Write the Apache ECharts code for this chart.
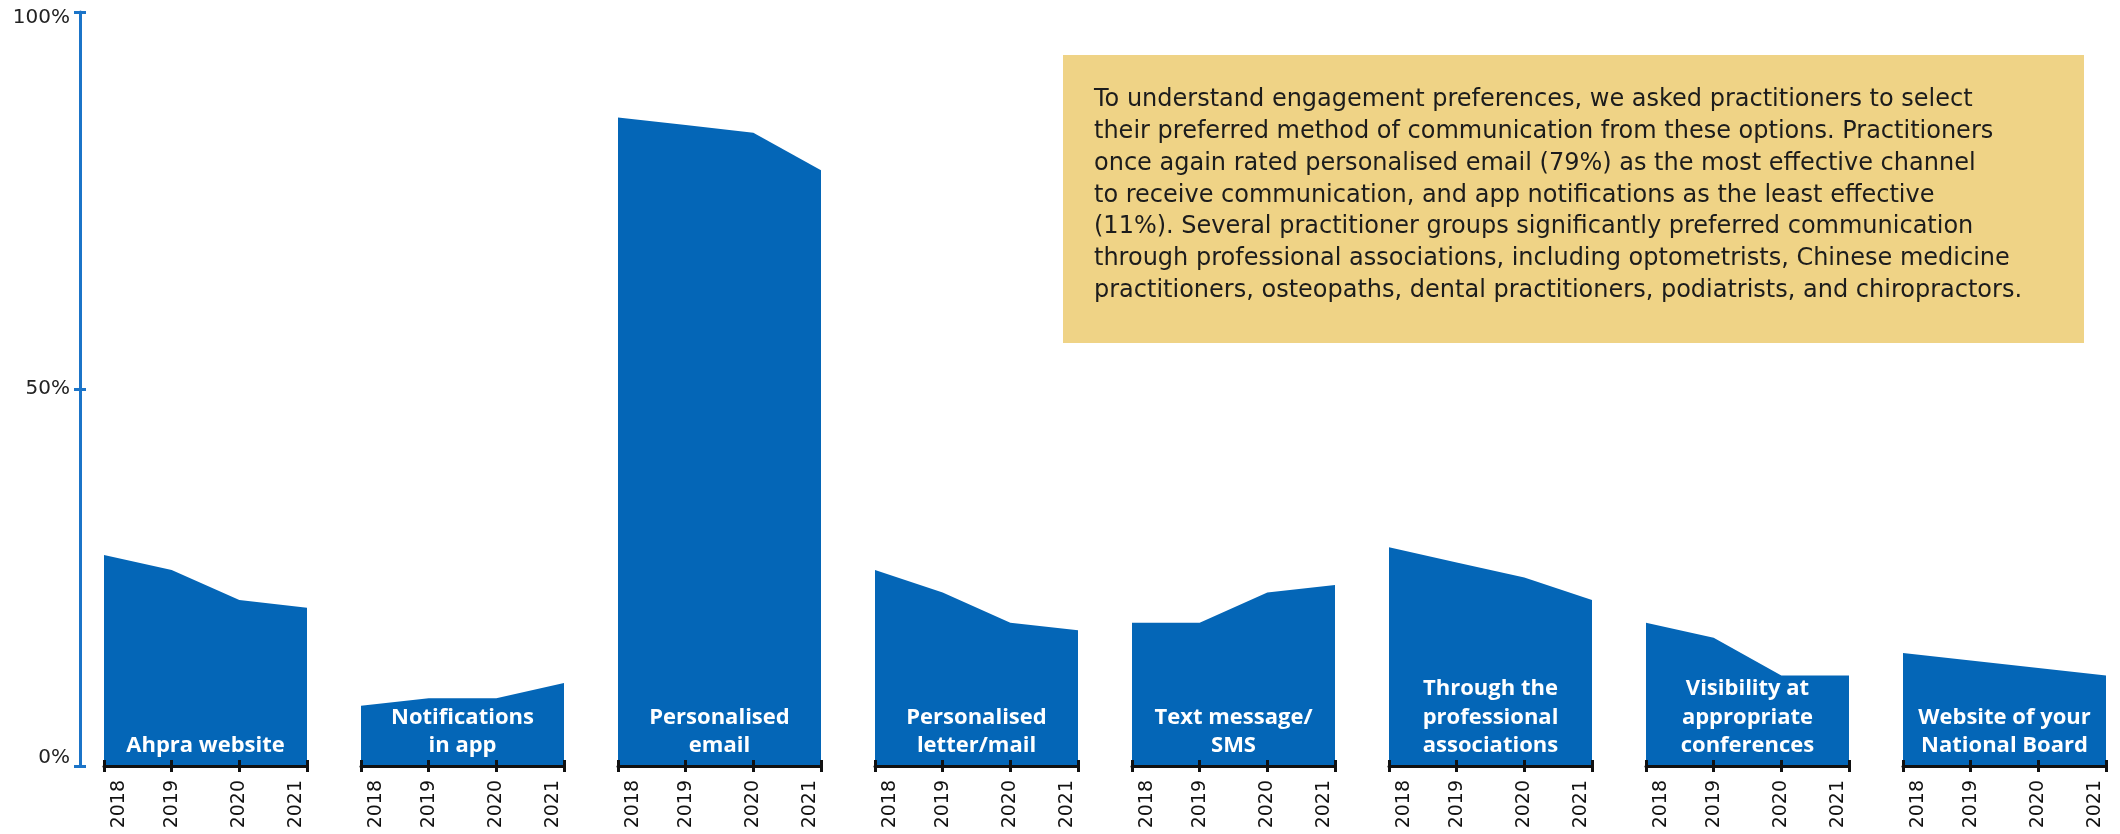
<!DOCTYPE html>
<html>
<head>
<meta charset="utf-8">
<script src="https://cdn.jsdelivr.net/npm/echarts@6/dist/echarts.min.js"></script>
<style>
html,body{margin:0;padding:0;background:#fff;}
#chart{width:2120px;height:834px;}
</style>
</head>
<body>
<div id="chart"></div>
<script>
// ---- data ----
const years = ['2018', '2019', '2020', '2021'];
const categories = [
  'Ahpra website',
  'Notifications\nin app',
  'Personalised\nemail',
  'Personalised\nletter/mail',
  'Text message/\nSMS',
  'Through the\nprofessional\nassociations',
  'Visibility at\nappropriate\nconferences',
  'Website of your\nNational Board'
];
const ahpraWebsite       = [28, 26, 22, 21];
const notificationsInApp = [8, 9, 9, 11];
const personalisedEmail  = [86, 85, 84, 79];
const personalisedLetter = [26, 23, 19, 18];
const textMessageSMS     = [19, 19, 23, 24];
const professionalAssoc  = [29, 27, 25, 22];
const conferences        = [19, 17, 12, 12];
const nationalBoardSite  = [15, 14, 13, 12];
const seriesValues = [ahpraWebsite, notificationsInApp, personalisedEmail, personalisedLetter,
  textMessageSMS, professionalAssoc, conferences, nationalBoardSite];
const yTickValues = [0, 50, 100];
const yTickLabels = ['0%', '50%', '100%'];
const noteText = [
  'To understand engagement preferences, we asked practitioners to select',
  'their preferred method of communication from these options. Practitioners',
  'once again rated personalised email (79%) as the most effective channel',
  'to receive communication, and app notifications as the least effective',
  '(11%). Several practitioner groups significantly preferred communication',
  'through professional associations, including optometrists, Chinese medicine',
  'practitioners, osteopaths, dental practitioners, podiatrists, and chiropractors.'
];

// ---- layout ----
const BLUE = '#0466b7';
const AXIS_BLUE = '#1b74c8';
const FONT = '"DejaVu Sans", "Noto Sans", sans-serif';
const BOLD_FONT = '"Open Sans", "Noto Sans", sans-serif';
const gridLeft0 = 104, gridStep = 257, gridW = 203, gridTop = 12, gridBottom = 68;

const grids = [], xAxes = [], yAxes = [], series = [];
categories.forEach((cat, i) => {
  grids.push({left: gridLeft0 + i * gridStep, width: gridW, top: gridTop, bottom: gridBottom,
    containLabel: false, outerBoundsMode: 'none'});
  // main x axis: line, outside ticks, labels, category name
  xAxes.push({
    type: 'category', gridIndex: i, data: years, boundaryGap: false, position: 'bottom', z: 10,
    axisLine: {show: true, lineStyle: {color: '#111', width: 3}},
    axisTick: {show: true, inside: false, length: 6, lineStyle: {color: '#111', width: 3}},
    axisLabel: {
      show: true, rotate: 90, margin: 14, interval: 0, color: '#111',
      fontFamily: FONT, fontSize: 19,
      formatter: (v, idx) => idx === 0 ? '{a|' + v + '}' : (idx === years.length - 1 ? '{d|' + v + '}' : '{m|' + v + '}'),
      rich: {
        a: {fontFamily: FONT, fontSize: 19, color: '#111', padding: [30, 0, 0, 0]},
        m: {fontFamily: FONT, fontSize: 19, color: '#111'},
        d: {fontFamily: FONT, fontSize: 19, color: '#111', padding: [0, 0, 22, 0]}
      }
    },
    splitLine: {show: false},
    name: cat, nameLocation: 'middle', nameGap: -6, nameMoveOverlap: false,
    nameTextStyle: {color: '#fff', fontFamily: BOLD_FONT, fontWeight: 'bold', fontSize: 22,
      lineHeight: 28.5, align: 'center', verticalAlign: 'bottom'}
  });
  // secondary x axis: inside ticks only
  xAxes.push({
    type: 'category', gridIndex: i, data: years, boundaryGap: false, position: 'bottom', z: 10,
    axisLine: {show: false},
    axisTick: {show: true, inside: true, length: 6, lineStyle: {color: '#111', width: 3}},
    axisLabel: {show: false}, splitLine: {show: false}
  });
  if (i === 0) {
    yAxes.push({
      type: 'value', gridIndex: 0, min: 0, max: 100, interval: 50, position: 'left', offset: 24, z: 10,
      axisLine: {show: true, lineStyle: {color: AXIS_BLUE, width: 3}},
      axisTick: {show: true, inside: false, length: 6, lineStyle: {color: AXIS_BLUE, width: 3}},
      axisLabel: {
        show: true, margin: 10, color: '#222', fontFamily: FONT, fontSize: 20,
        formatter: v => {
          const k = yTickValues.indexOf(v);
          const t = k >= 0 ? yTickLabels[k] : '';
          if (v === 0) return '{lo|' + t + '}';
          if (v === 100) return '{hi|' + t + '}';
          return '{mid|' + t + '}';
        },
        rich: {
          lo: {fontFamily: FONT, fontSize: 20, color: '#222', padding: [0, 0, 16, 0]},
          mid: {fontFamily: FONT, fontSize: 20, color: '#222'},
          hi: {fontFamily: FONT, fontSize: 20, color: '#222', padding: [12, 0, 0, 0]}
        }
      },
      splitLine: {show: false}
    });
    yAxes.push({
      type: 'value', gridIndex: 0, min: 0, max: 100, interval: 50, position: 'left', offset: 24, z: 10,
      axisLine: {show: false},
      axisTick: {show: true, inside: true, length: 6, lineStyle: {color: AXIS_BLUE, width: 3}},
      axisLabel: {show: false}, splitLine: {show: false}
    });
  } else {
    yAxes.push({type: 'value', gridIndex: i, min: 0, max: 100, show: false, splitLine: {show: false}});
  }
  series.push({
    type: 'line', xAxisIndex: i * 2, yAxisIndex: i === 0 ? 0 : i + 1,
    data: seriesValues[i], showSymbol: false, symbol: 'none', silent: true,
    lineStyle: {width: 0, color: BLUE}, itemStyle: {color: BLUE},
    areaStyle: {color: BLUE, opacity: 1}, z: 2
  });
});

const chart = echarts.init(document.getElementById('chart'), null, {renderer: 'canvas'});
chart.setOption({
  animation: false,
  backgroundColor: '#fff',
  grid: grids, xAxis: xAxes, yAxis: yAxes, series: series,
  graphic: [
    {type: 'rect', left: 1063, top: 55, shape: {width: 1021, height: 288}, style: {fill: '#efd386'}, z: 1},
    {type: 'text', left: 1094, top: 84, z: 2,
      style: {text: noteText.join('\n'), fill: '#1c1c1c', font: '24px ' + FONT, lineHeight: 31.8}}
  ]
});
</script>
</body>
</html>
